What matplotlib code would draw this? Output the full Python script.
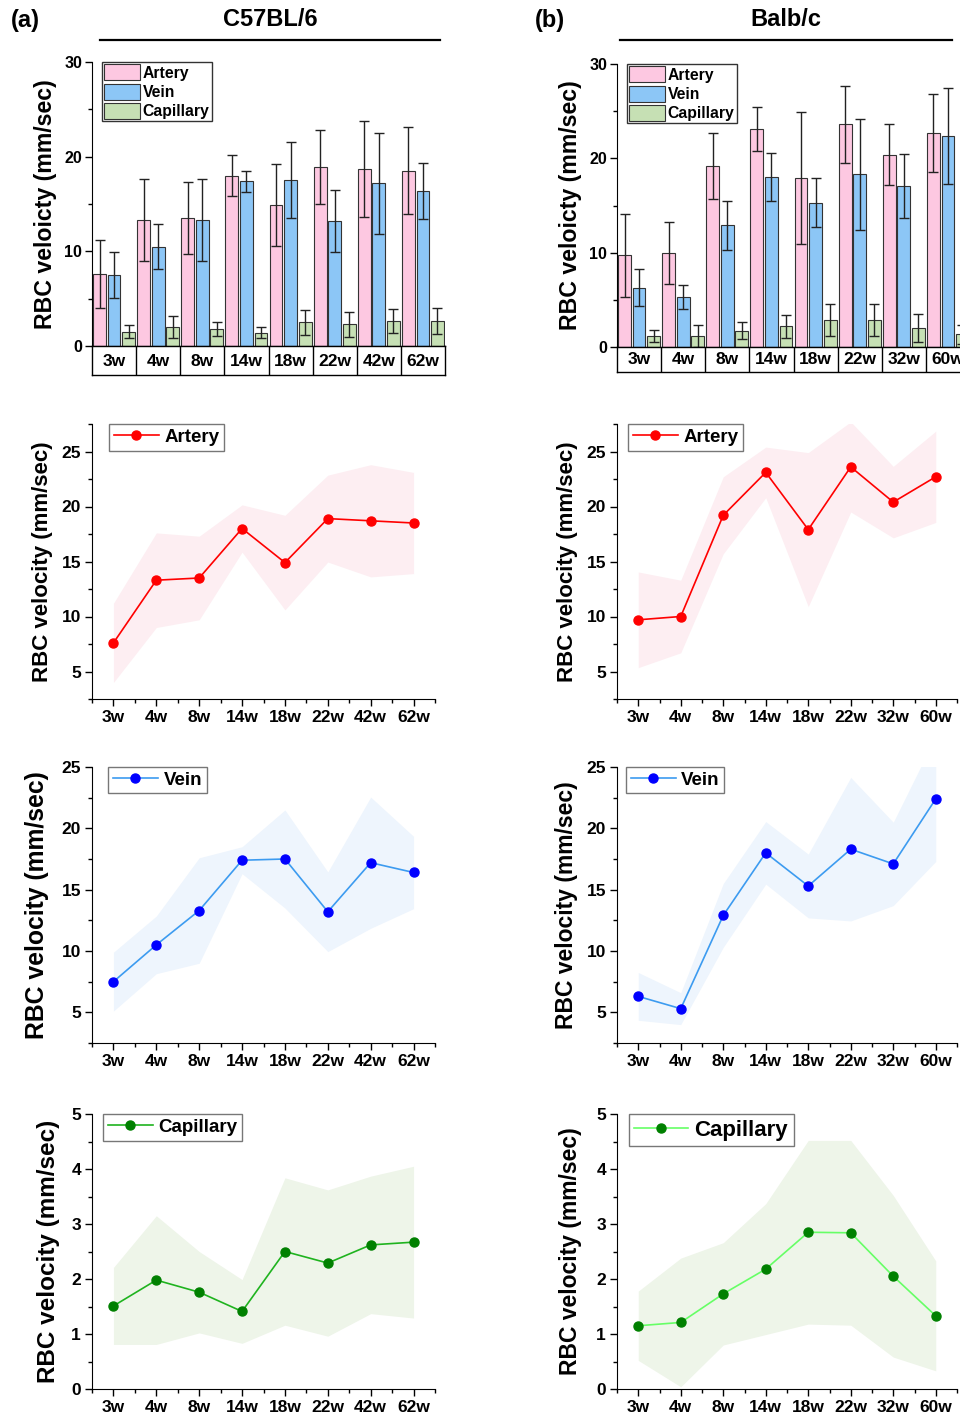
import numpy as np
import matplotlib
matplotlib.use("Agg")
import matplotlib.pyplot as plt
from matplotlib.patches import Patch
from matplotlib.lines import Line2D

plt.rcParams['font.family'] = ['Liberation Sans', 'DejaVu Sans']
plt.rcParams['font.weight'] = 'bold'
plt.rcParams['axes.labelweight'] = 'bold'

W, H = 960, 1418

# ---- data (mean, SD) ----
weeks_c57 = ['3w', '4w', '8w', '14w', '18w', '22w', '42w', '62w']
weeks_balb = ['3w', '4w', '8w', '14w', '18w', '22w', '32w', '60w']

c57_artery = [7.6, 13.3, 13.5, 18.0, 14.9, 18.9, 18.7, 18.5]
c57_artery_sd = [3.6, 4.3, 3.8, 2.15, 4.3, 3.95, 5.1, 4.6]
c57_vein = [7.5, 10.5, 13.3, 17.4, 17.5, 13.2, 17.2, 16.4]
c57_vein_sd = [2.4, 2.35, 4.3, 1.1, 4.0, 3.25, 5.35, 2.95]
c57_cap = [1.51, 1.98, 1.76, 1.41, 2.50, 2.29, 2.62, 2.67]
c57_cap_sd = [0.70, 1.17, 0.74, 0.58, 1.34, 1.33, 1.25, 1.38]

balb_artery = [9.7, 10.0, 19.2, 23.1, 17.9, 23.6, 20.4, 22.7]
balb_artery_sd = [4.35, 3.3, 3.5, 2.3, 7.0, 4.1, 3.25, 4.15]
balb_vein = [6.3, 5.3, 12.9, 18.0, 15.3, 18.3, 17.1, 22.4]
balb_vein_sd = [1.95, 1.3, 2.6, 2.55, 2.6, 5.85, 3.4, 5.1]
balb_cap = [1.15, 1.21, 1.73, 2.18, 2.85, 2.84, 2.05, 1.33]
balb_cap_sd = [0.63, 1.17, 0.93, 1.19, 1.67, 1.68, 1.47, 1.0]

pink = '#FDC8E1'
blue = '#8CC6F6'
green = '#C6E0B4'


def rect(x0, y0, x1, y1):
    # pixel box (top-left origin) -> figure fraction
    return [x0 / W, 1 - y1 / H, (x1 - x0) / W, (y1 - y0) / H]


def bar_panel(fig, box, box_bottom, weeks, art, art_sd, vein, vein_sd, cap, cap_sd):
    x0, y0, x1, y1 = box
    ax = fig.add_axes(rect(x0, y0, x1, y1))
    x = np.arange(len(weeks)) + 0.5
    w = 0.29
    err_kw = dict(ecolor='#222222', elinewidth=1, capsize=3.5, capthick=1)
    ax.bar(x - 0.33, art, w, yerr=art_sd, color=pink, edgecolor='#333333', linewidth=0.8, error_kw=err_kw)
    ax.bar(x, vein, w, yerr=vein_sd, color=blue, edgecolor='#333333', linewidth=0.8, error_kw=err_kw)
    ax.bar(x + 0.33, cap, w, yerr=cap_sd, color=green, edgecolor='#333333', linewidth=0.8, error_kw=err_kw)
    ax.set_xlim(0, len(weeks))
    ax.set_ylim(0, 30)
    ax.set_yticks([0, 10, 20, 30])
    ax.set_yticks([5, 15, 25], minor=True)
    ax.set_xticks([])
    ax.spines['top'].set_visible(False)
    ax.spines['right'].set_visible(False)
    ax.tick_params(axis='y', which='major', direction='out', length=5, width=1, labelsize=11.5, pad=2)
    ax.tick_params(axis='y', which='minor', direction='out', length=3, width=1)
    for t in ax.get_yticklabels():
        t.set_fontweight('bold')
    ax.set_ylabel('RBC veloicty (mm/sec)', fontsize=16.7, labelpad=5)
    handles = [Patch(facecolor=c, edgecolor='#333333', linewidth=0.8) for c in (pink, blue, green)]
    leg = ax.legend(handles, ['Artery', 'Vein', 'Capillary'], loc='upper left',
                    bbox_to_anchor=(0.028, 1.0), borderaxespad=0, fancybox=False,
                    edgecolor='#333333', framealpha=1, prop={'size': 11.3, 'weight': 'bold'},
                    handlelength=2.3, handleheight=1.2, handletextpad=0.15,
                    labelspacing=0.18, borderpad=0.15)
    leg.get_frame().set_linewidth(1)

    # category box under the bars
    cb = fig.add_axes(rect(x0, y1, x1, box_bottom))
    cb.set_xlim(0, len(weeks))
    cb.set_ylim(0, 1)
    cb.set_xticks([])
    cb.set_yticks([])
    for s in cb.spines.values():
        s.set_linewidth(1)
    cb.vlines(np.arange(1, len(weeks)), 0, 1, color='black', linewidth=1)
    for i, lab in enumerate(weeks):
        cb.text(i + 0.5, 0.48, lab, ha='center', va='center', fontsize=12.5, fontweight='bold')
    return ax


def line_panel(fig, box, weeks, vals, sd, ylim, major, minor, line_c, mark_c, fill_c,
               label, leg_x, leg_size=13.5, lab_size=16, lab_pad=6):
    ax = fig.add_axes(rect(*box))
    x = np.arange(len(weeks))
    vals = np.array(vals)
    sd = np.array(sd)
    ax.fill_between(x, vals - sd, vals + sd, color=fill_c, linewidth=0)
    ax.plot(x, vals, '-o', color=line_c, markerfacecolor=mark_c, markeredgecolor=mark_c,
            markersize=6.5, linewidth=1.2, label=label)
    ax.set_xlim(-0.5, len(weeks) - 0.5)
    ax.set_ylim(*ylim)
    ax.set_xticks(x)
    ax.set_xticklabels(weeks)
    ax.set_xticks(np.arange(-0.5, len(weeks), 1), minor=True)
    ax.set_yticks(major)
    ax.set_yticks(minor, minor=True)
    ax.spines['top'].set_visible(False)
    ax.spines['right'].set_visible(False)
    ax.tick_params(which='major', direction='out', length=5, width=1, labelsize=12.5, pad=3)
    ax.tick_params(which='minor', direction='out', length=3, width=1)
    for t in ax.get_xticklabels() + ax.get_yticklabels():
        t.set_fontweight('bold')
    ax.set_ylabel('RBC velocity (mm/sec)', fontsize=lab_size, labelpad=lab_pad)
    leg = ax.legend(loc='upper left', bbox_to_anchor=(leg_x, 1.0), borderaxespad=0,
                    fancybox=False, edgecolor='#777777', framealpha=1,
                    prop={'size': leg_size, 'weight': 'bold'}, handlelength=2.4,
                    handletextpad=0.3, borderpad=0.25, numpoints=1)
    leg.get_frame().set_linewidth(1)
    return ax


fig = plt.figure(figsize=(W / 100, H / 100), dpi=100)

# headers
fig.text(25 / W, 1 - 20 / H, '(a)', fontsize=17, fontweight='bold', ha='center', va='center')
fig.text(270 / W, 1 - 20 / H, 'C57BL/6', fontsize=17, fontweight='bold', ha='center', va='center')
fig.add_artist(Line2D([100 / W, 440 / W], [1 - 40 / H, 1 - 40 / H], color='black', linewidth=1.6))
fig.text(550 / W, 1 - 20 / H, '(b)', fontsize=17, fontweight='bold', ha='center', va='center')
fig.text(786 / W, 1 - 20 / H, 'Balb/c', fontsize=17, fontweight='bold', ha='center', va='center')
fig.add_artist(Line2D([620 / W, 952 / W], [1 - 40 / H, 1 - 40 / H], color='black', linewidth=1.6))

# row 1: grouped bars
bar_panel(fig, (92, 62, 445, 346), 375, weeks_c57, c57_artery, c57_artery_sd,
          c57_vein, c57_vein_sd, c57_cap, c57_cap_sd)
bar_panel(fig, (617, 64, 970, 347), 372, weeks_balb, balb_artery, balb_artery_sd,
          balb_vein, balb_vein_sd, balb_cap, balb_cap_sd)

# row 2: artery
line_panel(fig, (92, 424, 435, 699), weeks_c57, c57_artery, c57_artery_sd, (2.5, 27.5),
           [5, 10, 15, 20, 25], np.arange(2.5, 27.6, 2.5), '#FF0000', '#FF0000', '#FDEEF2',
           'Artery', 0.05)
line_panel(fig, (617, 424, 957, 699), weeks_balb, balb_artery, balb_artery_sd, (2.5, 27.5),
           [5, 10, 15, 20, 25], np.arange(2.5, 27.6, 2.5), '#FF0000', '#FF0000', '#FDEEF2',
           'Artery', 0.032)

# row 3: vein
line_panel(fig, (92, 767, 435, 1043), weeks_c57, c57_vein, c57_vein_sd, (2.5, 25),
           [5, 10, 15, 20, 25], np.arange(2.5, 25.1, 2.5), '#3C9BF0', '#0000FF', '#EEF5FD',
           'Vein', 0.047, lab_size=17.8, lab_pad=9)
line_panel(fig, (617, 767, 957, 1043), weeks_balb, balb_vein, balb_vein_sd, (2.5, 25),
           [5, 10, 15, 20, 25], np.arange(2.5, 25.1, 2.5), '#3C9BF0', '#0000FF', '#EEF5FD',
           'Vein', 0.026, lab_size=16.5)

# row 4: capillary
line_panel(fig, (92, 1114, 435, 1389), weeks_c57, c57_cap, c57_cap_sd, (0, 5),
           [0, 1, 2, 3, 4, 5], np.arange(0, 5.01, 0.5), '#1FB31F', '#008000', '#EEF5E9',
           'Capillary', 0.032, lab_size=17.5, lab_pad=8)
line_panel(fig, (617, 1114, 957, 1389), weeks_balb, balb_cap, balb_cap_sd, (0, 5),
           [0, 1, 2, 3, 4, 5], np.arange(0, 5.01, 0.5), '#66FF66', '#008000', '#EEF5E9',
           'Capillary', 0.035, leg_size=16, lab_size=16.5, lab_pad=10)

fig.savefig('out.png', dpi=100)
